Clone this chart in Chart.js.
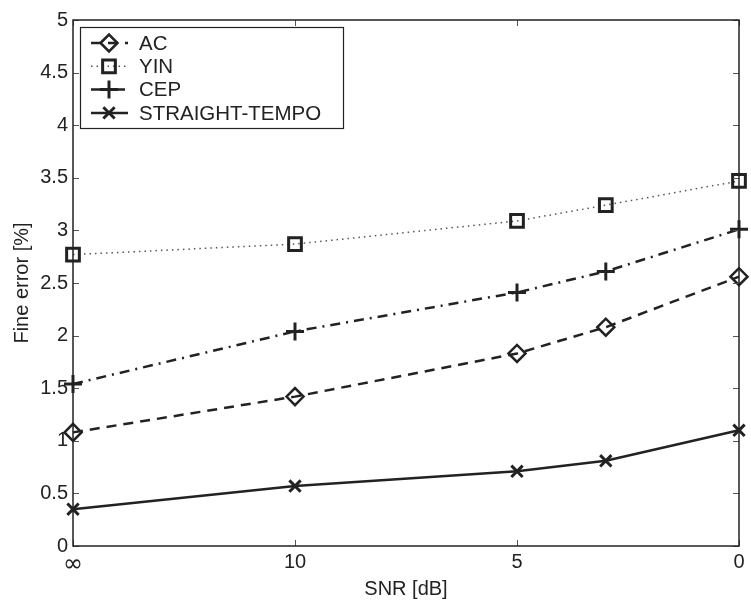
<!DOCTYPE html>
<html>
<head>
<meta charset="utf-8">
<script src="https://cdn.jsdelivr.net/npm/chart.js@4/dist/chart.umd.min.js"></script>
<style>
html,body{margin:0;padding:0;background:#fff;}
#c{display:block;}
</style>
</head>
<body>
<canvas id="c" width="751" height="601"></canvas>
<script>
// ---- data ----
const snrLabels = ['∞', '10', '5', '3', '0'];
const snrPos = [15, 10, 5, 3, 0];          // axis position of each SNR condition (∞ drawn left of 10)
const xTickPos = [15, 10, 5, 0];
const xTickLabels = ['∞', '10', '5', '0'];
const seriesNames = ['AC', 'YIN', 'CEP', 'STRAIGHT-TEMPO'];
const acValues = [1.08, 1.42, 1.83, 2.08, 2.56];
const yinValues = [2.77, 2.87, 3.09, 3.24, 3.47];
const cepValues = [1.54, 2.04, 2.41, 2.61, 3.01];
const straightValues = [0.35, 0.57, 0.71, 0.81, 1.10];

const INK = '#222';
const FONT = "'Liberation Sans', Arial, Helvetica, sans-serif";

function pts(vals) { return vals.map((v, i) => ({x: snrPos[i], y: v})); }

const styles = [
  {dash: [10, 7], width: 2.5, color: INK, pointStyle: 'rectRot', radius: 8.5, pw: 2.5},
  {dash: [1.5, 4], width: 1.5, color: '#555', pointStyle: 'rect', radius: 9, pw: 3, pcolor: INK},
  {dash: [10, 6, 2, 6], width: 2.5, color: INK, pointStyle: 'cross', radius: 9, pw: 3},
  {dash: [], width: 2.5, color: INK, pointStyle: 'crossRot', radius: 8, pw: 3}
];
const allValues = [acValues, yinValues, cepValues, straightValues];

const datasets = allValues.map((vals, i) => {
  const s = styles[i];
  return {
    label: seriesNames[i],
    data: pts(vals),
    borderColor: s.color,
    borderWidth: s.width,
    borderDash: s.dash,
    pointStyle: s.pointStyle,
    pointRadius: s.radius,
    pointHoverRadius: s.radius,
    pointBorderWidth: s.pw,
    pointBorderColor: s.pcolor || INK,
    pointBackgroundColor: 'rgba(0,0,0,0)',
    fill: false,
    tension: 0,
    clip: false
  };
});

const framePlugin = {
  id: 'frame',
  afterDraw(chart) {
    const {ctx, chartArea: a, scales} = chart;
    ctx.save();
    // inward tick marks
    ctx.strokeStyle = '#555';
    ctx.lineWidth = 1;
    ctx.beginPath();
    scales.y.ticks.forEach(t => {
      const y = Math.round(scales.y.getPixelForValue(t.value)) + 0.5;
      ctx.moveTo(a.left, y); ctx.lineTo(a.left + 6, y);
      ctx.moveTo(a.right, y); ctx.lineTo(a.right - 6, y);
    });
    scales.x.ticks.forEach(t => {
      const x = Math.round(scales.x.getPixelForValue(t.value)) + 0.5;
      ctx.moveTo(x, a.bottom); ctx.lineTo(x, a.bottom - 6);
      ctx.moveTo(x, a.top); ctx.lineTo(x, a.top + 6);
    });
    ctx.stroke();
    // box
    ctx.strokeStyle = INK;
    ctx.lineWidth = 1.5;
    ctx.strokeRect(a.left, a.top, a.right - a.left, a.bottom - a.top);

    // legend
    const lx = 80, ly = 27, lw = 263, lh = 101;
    ctx.fillStyle = '#fff';
    ctx.fillRect(lx, ly, lw, lh);
    ctx.strokeStyle = INK;
    ctx.lineWidth = 1.2;
    ctx.strokeRect(lx + 0.5, ly + 0.5, lw, lh);
    chart.data.datasets.forEach((ds, i) => {
      const y = 43 + i * 23.3;
      ctx.save();
      ctx.strokeStyle = ds.borderColor;
      ctx.lineWidth = ds.borderWidth;
      ctx.setLineDash(ds.borderDash);
      ctx.beginPath();
      ctx.moveTo(91, y); ctx.lineTo(128, y);
      ctx.stroke();
      ctx.restore();
      ctx.save();
      ctx.strokeStyle = ds.pointBorderColor;
      ctx.fillStyle = 'rgba(0,0,0,0)';
      ctx.lineWidth = ds.pointBorderWidth;
      Chart.helpers.drawPoint(ctx, {pointStyle: ds.pointStyle, radius: ds.pointRadius, rotation: 0, borderWidth: ds.pointBorderWidth}, 109, y);
      ctx.restore();
      ctx.fillStyle = INK;
      ctx.font = '20.5px ' + FONT;
      ctx.textBaseline = 'middle';
      ctx.textAlign = 'left';
      ctx.fillText(ds.label, 139, y + 1);
    });
    ctx.restore();
  }
};

const zeroPad = () => ({left: 0, right: 0, top: 0, bottom: 0});

new Chart(document.getElementById('c'), {
  type: 'line',
  data: {datasets},
  options: {
    responsive: false,
    devicePixelRatio: 1,
    animation: false,
    events: [],
    layout: {padding: {top: 20, right: 8, left: 0, bottom: 0}},
    plugins: {legend: {display: false}, tooltip: {enabled: false}, title: {display: false}},
    scales: {
      x: {
        type: 'linear',
        reverse: true,
        min: 0,
        max: 15,
        afterBuildTicks(scale) { scale.ticks = xTickPos.map(v => ({value: v})); },
        afterFit(scale) { scale.height = 55; scale.paddingLeft = 0; scale.paddingRight = 0; scale.getPadding = zeroPad; },
        ticks: {
          color: INK,
          font(ctx) {
            if (ctx.tick && ctx.tick.value === 15) return {family: "'DejaVu Sans', sans-serif", size: 24};
            return {family: FONT, size: 20};
          },
          padding: 4,
          maxRotation: 0,
          autoSkip: false,
          callback(v) { const k = xTickPos.indexOf(v); return k >= 0 ? xTickLabels[k] : ''; }
        },
        grid: {display: false, drawTicks: false},
        border: {display: false},
        title: {display: true, text: 'SNR [dB]', color: INK, font: {family: FONT, size: 20}, padding: {top: 0, bottom: 0}}
      },
      y: {
        min: 0,
        max: 5,
        afterFit(scale) { scale.width = 73; scale.paddingTop = 0; scale.paddingBottom = 0; scale.getPadding = zeroPad; },
        ticks: {
          stepSize: 0.5, color: INK, font: {family: FONT, size: 20}, padding: 5,
          callback(v) { return String(Math.round(v * 10) / 10); }
        },
        grid: {display: false, drawTicks: false},
        border: {display: false},
        title: {display: true, text: 'Fine error [%]', color: INK, font: {family: FONT, size: 20}, padding: {top: 10, bottom: 0}}
      }
    }
  },
  plugins: [framePlugin]
});
</script>
</body>
</html>
